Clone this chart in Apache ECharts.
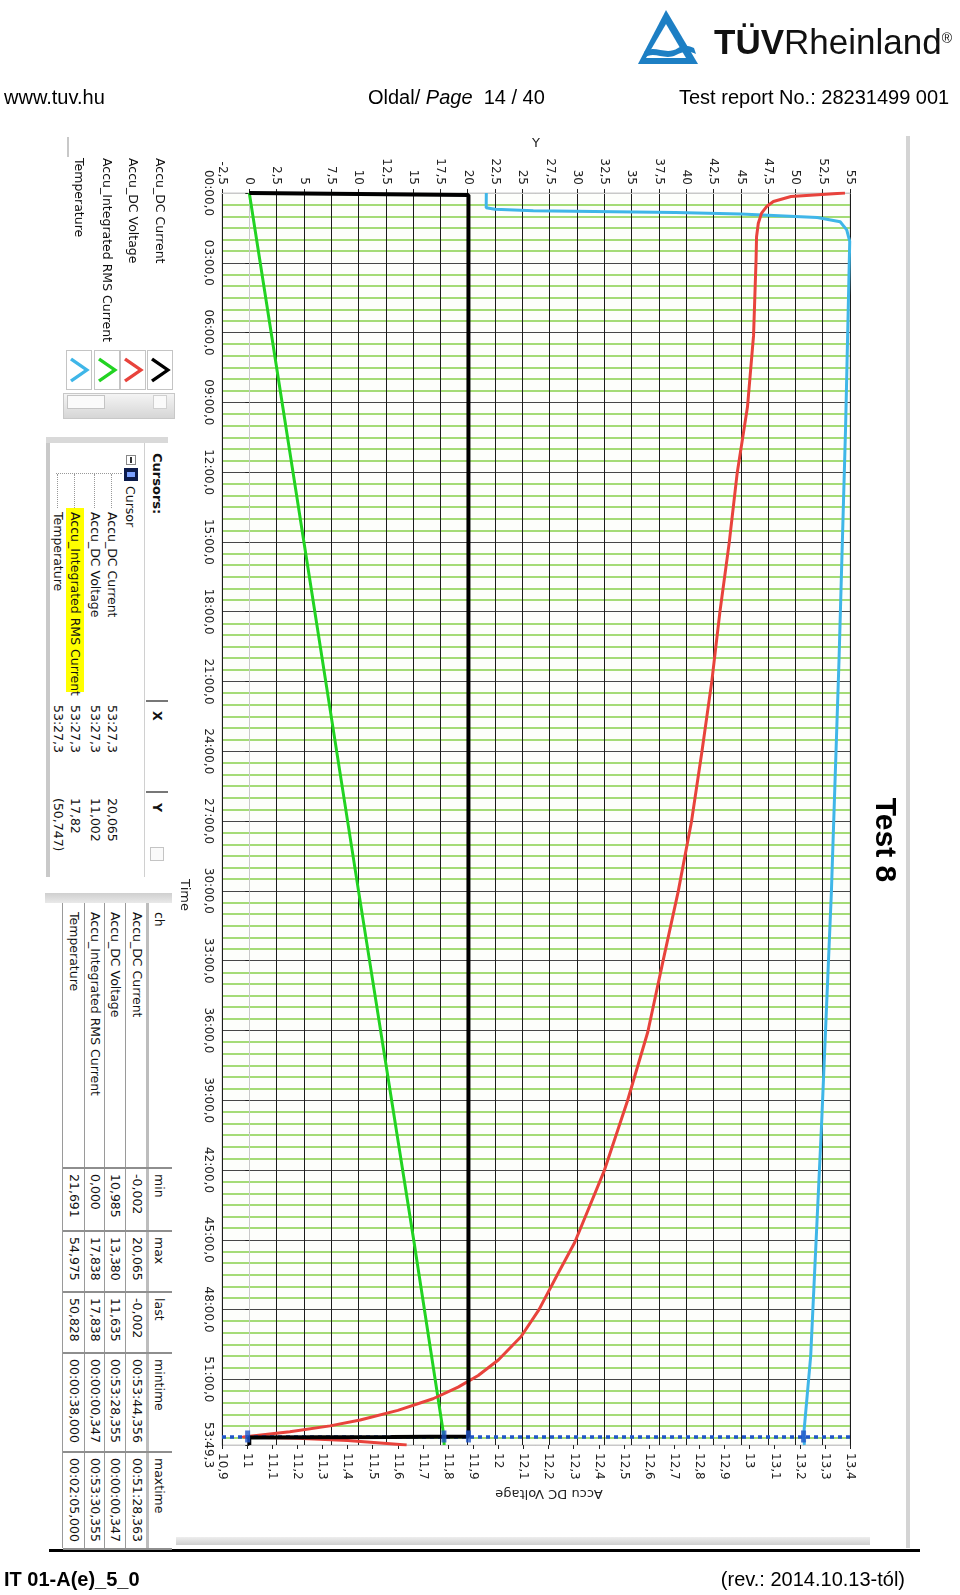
<!DOCTYPE html>
<html>
<head>
<meta charset="utf-8">
<script src="https://cdn.jsdelivr.net/npm/echarts@6/dist/echarts.min.js"></script>
<style>
  html, body { margin:0; padding:0; background:#fff; }
  body { width:960px; height:1595px; position:relative; overflow:hidden; font-family:"Liberation Sans", Arial, sans-serif; }
  #chart { position:absolute; left:0; top:0; width:960px; height:1595px; }
  .abs { position:absolute; white-space:nowrap; }
  .rot { position:absolute; transform-origin:0 0; transform:rotate(90deg); font-family:"DejaVu Sans", sans-serif; font-size:12.5px; color:#111; }
  .rot .t { position:absolute; white-space:nowrap; line-height:16px; }
  .hl { position:absolute; }
</style>
</head>
<body>
<div id="chart"></div>

<!-- header -->
<svg class="abs" style="left:636px;top:8px" width="66" height="58" viewBox="0 0 66 58">
  <polygon points="30,2 62,56 2,56" fill="#1d7fc4"/>
  <polygon points="30,16 50,50 10,50" fill="#fff"/>
  <path d="M8,44 C18,36 30,48 42,40 C48,36 54,38 58,40 L60,46 C52,42 46,44 40,47 C28,53 18,42 8,50 Z" fill="#1d7fc4"/>
</svg>
<div class="abs" style="left:714px;top:22px;font-size:35px;line-height:40px;color:#111;"><b>TÜV</b>Rheinland<sup style="font-size:14px;vertical-align:top;position:relative;top:-4px;">®</sup></div>
<div class="abs" style="left:4px;top:85px;font-size:20px;line-height:24px;">www.tuv.hu</div>
<div class="abs" style="left:368px;top:85px;font-size:20px;line-height:24px;">Oldal/ <i>Page</i>&nbsp; 14 / 40</div>
<div class="abs" style="left:679px;top:85px;font-size:20px;line-height:24px;">Test report No.: 28231499 001</div>

<!-- footer -->
<div class="abs" style="left:49px;top:1549px;width:871px;height:3px;background:#000;"></div>
<div class="abs" style="left:4px;top:1567px;font-size:20px;line-height:24px;font-weight:bold;">IT 01-A(e)_5_0</div>
<div class="abs" style="left:600px;width:305px;text-align:right;top:1567px;font-size:20px;line-height:24px;">(rev.: 2014.10.13-tól)</div>

<!-- window frame -->
<div class="abs" style="left:906px;top:136px;width:4px;height:1412px;background:#d4d4d4;"></div>
<div class="abs" style="left:176px;top:1537px;width:694px;height:8px;background:linear-gradient(#eee,#cfcfcf);"></div>

<div id="legendPanel" class="rot"></div>
<div id="cursorPanel" class="rot"></div>
<div id="tablePanel" class="rot"></div>

<script>
// ---------------- DATA ----------------
const seriesNames = ['Accu_DC Current', 'Accu_DC Voltage', 'Accu_Integrated RMS Current', 'Temperature'];
const seriesColors = ['#000000', '#e8433c', '#22d322', '#3fb6e8'];

// time in seconds from start
const currentTime = [0, 5, 3207.5, 3208.5, 3210, 3229.3];
const currentVal  = [0, 20.065, 20.065, 13.0, -0.002, -0.002];

const voltageTime = [0, 5, 9, 22, 35, 52, 78, 113, 173, 368, 551, 722, 903, 1081, 1259, 1443, 1621, 1802, 1980, 2164, 2342, 2523, 2707, 2790, 2880, 2950, 3010, 3050, 3080, 3110, 3140, 3165, 3180, 3195, 3207.3, 3208.4, 3212, 3218, 3224, 3229.3];
const voltageVal  = [13.38, 13.38, 13.165, 13.095, 13.068, 13.048, 13.035, 13.028, 13.026, 13.016, 12.992, 12.951, 12.919, 12.882, 12.850, 12.810, 12.769, 12.716, 12.656, 12.595, 12.514, 12.421, 12.304, 12.235, 12.162, 12.09, 12.0, 11.92, 11.84, 11.74, 11.60, 11.45, 11.33, 11.17, 11.002, 10.985, 11.2, 11.4, 11.53, 11.635];

const rmsTime = [0, 900, 1800, 2700, 3207.3, 3210.4, 3229.3];
const rmsVal  = [0, 5.0, 10.0, 15.05, 17.82, 17.838, 17.838];

const tempTime = [0, 38, 42, 46, 50, 54, 63, 74, 95, 125, 600, 1200, 1800, 2400, 3000, 3207.3, 3229.3];
const tempVal  = [21.7, 21.691, 22.5, 26, 39, 45, 52, 54.1, 54.7, 54.975, 54.6, 54.0, 53.3, 52.4, 51.4, 50.747, 50.828];

const cursorTime = 3207.3;
const cursorY = [20.065, 11.002, 17.82, 50.747];

const timeMax = 3229.3;
const yMin = -2.5, yMax = 55, yStep = 2.5;
const vMin = 10.9, vMax = 13.4, vStep = 0.1;

const tableHeader = ['ch', 'min', 'max', 'last', 'mintime', 'maxtime'];
const tableRows = [
  ['Accu_DC Current', '-0,002', '20,065', '-0,002', '00:53:44,356', '00:51:28,363'],
  ['Accu_DC Voltage', '10,985', '13,380', '11,635', '00:53:28,355', '00:00:00,347'],
  ['Accu_Integrated RMS Current', '0,000', '17,838', '17,838', '00:00:00,347', '00:53:30,355'],
  ['Temperature', '21,691', '54,975', '50,828', '00:00:38,000', '00:02:05,000']
];
const cursorRows = [
  ['Accu_DC Current', '53:27,3', '20,065'],
  ['Accu_DC Voltage', '53:27,3', '11,002'],
  ['Accu_Integrated RMS Current', '53:27,3', '17,82'],
  ['Temperature', '53:27,3', '(50,747)']
];

// ---------------- helpers ----------------
function pairs(vals, times) { return vals.map((v, i) => [v, times[i]]); }
function comma(v, d) {
  let s = (+v).toFixed(d);
  if (d > 0) s = s.replace(/\.?0+$/, '');
  if (s === '-0') s = '0';
  return s.replace('.', ',');
}
function fmtTime(s) {
  const m = Math.floor(s / 60 + 1e-9);
  let sec = s - m * 60; if (sec < 0) sec = 0;
  const ss = (sec < 10 ? '0' : '') + sec.toFixed(1);
  return (m < 10 ? '0' : '') + m + ':' + ss.replace('.', ',');
}

// ---------------- chart ----------------
const chart = echarts.init(document.getElementById('chart'), null, {renderer: 'canvas'});
const labelFont = {fontFamily: '"DejaVu Sans", sans-serif', fontSize: 12, color: '#222'};
const nameFont = 'normal 13px "DejaVu Sans", sans-serif';
const option = {
  animation: false,
  backgroundColor: 'transparent',
  grid: {left: 222, top: 193, width: 628, height: 1252, show: true, backgroundColor: '#fdfefb', borderColor: '#c8c8c8', borderWidth: 1},
  xAxis: [
    {
      type: 'value', position: 'top', min: yMin, max: yMax, interval: yStep,
      name: 'Y', nameLocation: 'middle', nameGap: 42,
      nameTextStyle: {fontFamily: '"DejaVu Sans", sans-serif', fontSize: 13, color: '#222'},
      axisLine: {show: true, lineStyle: {color: '#c8c8c8'}},
      axisTick: {show: true, length: 4, lineStyle: {color: '#222'}},
      axisLabel: Object.assign({rotate: -90, margin: 8, formatter: v => comma(v, 1)}, labelFont),
      splitLine: {show: true, lineStyle: {color: '#1c1c1c', width: 1}}
    },
    {
      type: 'value', position: 'bottom', min: vMin, max: vMax, interval: vStep,
      axisLine: {show: true, lineStyle: {color: '#c8c8c8'}},
      axisTick: {show: true, length: 4, lineStyle: {color: '#222'}},
      axisLabel: Object.assign({rotate: -90, margin: 8, formatter: v => comma(v, 1)}, labelFont),
      splitLine: {show: false}
    }
  ],
  yAxis: {
    type: 'value', inverse: true, min: 0, max: timeMax, interval: 180,
    axisLine: {show: true, lineStyle: {color: '#c8c8c8'}},
    axisTick: {show: true, length: 4, lineStyle: {color: '#222'}},
    axisLabel: Object.assign({rotate: -90, margin: 8, formatter: v => fmtTime(v), showMaxLabel: true}, labelFont),
    splitLine: {show: true, lineStyle: {color: '#474747', width: 1}},
    minorTick: {show: false, splitNumber: 6},
    minorSplitLine: {show: true, lineStyle: {color: '#86cf4a', width: 1.6}}
  },
  series: [
    {name: seriesNames[3], type: 'line', xAxisIndex: 0, data: pairs(tempVal, tempTime), showSymbol: false,
     lineStyle: {color: seriesColors[3], width: 3}, z: 3},
    {name: seriesNames[2], type: 'line', xAxisIndex: 0, data: pairs(rmsVal, rmsTime), showSymbol: false,
     lineStyle: {color: seriesColors[2], width: 3}, z: 3},
    {name: seriesNames[1], type: 'line', xAxisIndex: 1, data: pairs(voltageVal, voltageTime), showSymbol: false, smooth: false,
     lineStyle: {color: seriesColors[1], width: 3, join: 'round'}, z: 4},
    {name: seriesNames[0], type: 'line', xAxisIndex: 0, data: pairs(currentVal, currentTime), showSymbol: false,
     lineStyle: {color: seriesColors[0], width: 4}, z: 5,
     markLine: {silent: true, symbol: 'none', label: {show: false},
       lineStyle: {color: '#1f55c8', width: 3.5, type: [4, 4]},
       data: [{yAxis: cursorTime}]}},
    {type: 'scatter', xAxisIndex: 0, symbol: 'rect', symbolSize: [5, 12], itemStyle: {color: '#1f55c8'}, z: 6,
     data: [[cursorY[0], cursorTime], [cursorY[2], cursorTime], [cursorY[3], cursorTime]]},
    {type: 'scatter', xAxisIndex: 1, symbol: 'rect', symbolSize: [5, 12], itemStyle: {color: '#1f55c8'}, z: 6,
     data: [[cursorY[1], cursorTime]]}
  ],
  graphic: [
    {type: 'text', x: 884, y: 840, rotation: -Math.PI / 2,
     style: {text: 'Test 8', font: 'bold 30px "Liberation Sans", Arial, sans-serif', fill: '#000', textAlign: 'center', textVerticalAlign: 'middle'}},
    {type: 'text', x: 184, y: 895, rotation: -Math.PI / 2,
     style: {text: 'Time', font: nameFont, fill: '#222', textAlign: 'center', textVerticalAlign: 'middle'}},
    {type: 'text', x: 549, y: 1493, rotation: Math.PI,
     style: {text: 'Accu DC Voltage', font: nameFont, fill: '#222', textAlign: 'center', textVerticalAlign: 'middle'}}
  ]
};
chart.setOption(option);

// ---------------- rotated panels ----------------
function rotPanel(id, pageLeft, pageTop, pageW, pageH) {
  const el = document.getElementById(id);
  el.style.left = (pageLeft + pageW) + 'px';
  el.style.top = pageTop + 'px';
  el.style.width = pageH + 'px';
  el.style.height = pageW + 'px';
  return el;
}
function add(parent, html, u, v, extra) {
  const d = document.createElement('div');
  d.className = 't';
  d.style.left = u + 'px';
  d.style.top = (v - 8) + 'px';
  if (extra) d.style.cssText += extra;
  d.innerHTML = html;
  parent.appendChild(d);
  return d;
}
function box(parent, u, v, w, h, css) {
  const d = document.createElement('div');
  d.className = 'hl';
  d.style.cssText = `left:${u}px;top:${v}px;width:${w}px;height:${h}px;` + css;
  parent.appendChild(d);
  return d;
}

// legend panel: page x 63..175, y 137..427
(function () {
  const p = rotPanel('legendPanel', 63, 137, 112, 290);
  const vCenters = [15, 42, 68, 96];
  seriesNames.forEach((n, i) => {
    add(p, n, 21, vCenters[i]);
    box(p, 213, vCenters[i] - 13, 40, 26, 'border:1px solid #c4c4c4;background:#fff;box-sizing:border-box;');
    const s = document.createElementNS('http://www.w3.org/2000/svg', 'svg');
    s.setAttribute('width', '40'); s.setAttribute('height', '26');
    s.style.cssText = `position:absolute;left:213px;top:${vCenters[i] - 13}px;`;
    s.innerHTML = `<polyline points="9,21 20,5 31,21" fill="none" stroke="${seriesColors[i]}" stroke-width="3.2"/>`;
    p.appendChild(s);
  });
  box(p, 256, 0, 26, 112, 'background:linear-gradient(90deg,#f4f4f4,#d6d6d6);border:1px solid #c8c8c8;box-sizing:border-box;');
  box(p, 258, 70, 14, 38, 'background:#fafafa;border:1px solid #c4c4c4;box-sizing:border-box;');
  box(p, 258, 8, 14, 14, 'background:#fafafa;border:1px solid #d0d0d0;box-sizing:border-box;');
  box(p, 0, 106, 20, 2, 'background:#c8c8c8;');
})();

// cursor panel: page x 46..168, y 443..877
(function () {
  const p = rotPanel('cursorPanel', 46, 443, 122, 434);
  box(p, 0, 0, 434, 122, 'background:#fff;');
  box(p, 0, 118, 434, 4, 'background:#c9c9c9;');
  box(p, -6, 0, 6, 122, 'background:#d9d9d9;');
  box(p, 0, 23, 434, 1, 'background:#d0d0d0;');
  box(p, 257, 0, 2, 22, 'background:#777;');
  box(p, 348, 0, 2, 22, 'background:#777;');
  add(p, '<b>Cursors:</b>', 10, 11, 'font-size:13px;');
  add(p, 'X', 268, 11, 'font-weight:bold;');
  add(p, 'Y', 360, 11, 'font-weight:bold;');
  box(p, 404, 4, 14, 14, 'border:1px solid #c4c4c4;box-sizing:border-box;background:#fafafa;');
  box(p, 12, 32, 10, 10, 'border:1px solid #888;box-sizing:border-box;background:#fff;');
  box(p, 14, 36, 6, 1.5, 'background:#333;');
  box(p, 25, 30, 13, 14, 'background:#0b1a4a;');
  box(p, 29, 33, 5, 8, 'background:#7aa0ff;');
  add(p, 'Cursor', 43, 38);
  box(p, 30, 46, 1, 66, 'border-left:1px dotted #999;');
  const vRows = [56, 73, 93, 110];
  box(p, 65, vRows[2] - 9, 184, 18, 'background:#ffff00;');
  cursorRows.forEach((r, i) => {
    box(p, 31, vRows[i], 34, 1, 'border-top:1px dotted #999;');
    add(p, r[0], 69, vRows[i]);
    add(p, r[1], 262, vRows[i]);
    add(p, r[2], 355, vRows[i]);
  });
})();

// table panel: page x 45..172, y 893..1548
(function () {
  const p = rotPanel('tablePanel', 45, 893, 127, 655);
  box(p, 0, 0, 655, 127, 'background:#fff;');
  box(p, 0, 0, 10, 127, 'background:linear-gradient(90deg,#cfcfcf,#e9e9e9);');
  const colU = [10, 274, 337, 398, 459, 558, 655];
  const rowV = [0, 24, 46, 67, 87, 109];
  for (let i = 1; i < rowV.length; i++) box(p, 10, rowV[i] - (i === 1 ? 1 : 0), 645, i === 1 ? 3 : 1, 'background:' + (i === 1 ? '#bdbdbd' : '#9a9a9a') + ';');
  for (let j = 1; j < colU.length; j++) box(p, colU[j], 0, 1.5, 109, 'background:#8e8e8e;');
  const textU = [19, 281, 344, 405, 466, 565];
  tableHeader.forEach((h, j) => add(p, h, textU[j], 13));
  const vc = [35, 56.5, 77, 98];
  tableRows.forEach((r, i) => r.forEach((c, j) => add(p, c, textU[j], vc[i])));
})();
</script>
</body>
</html>
